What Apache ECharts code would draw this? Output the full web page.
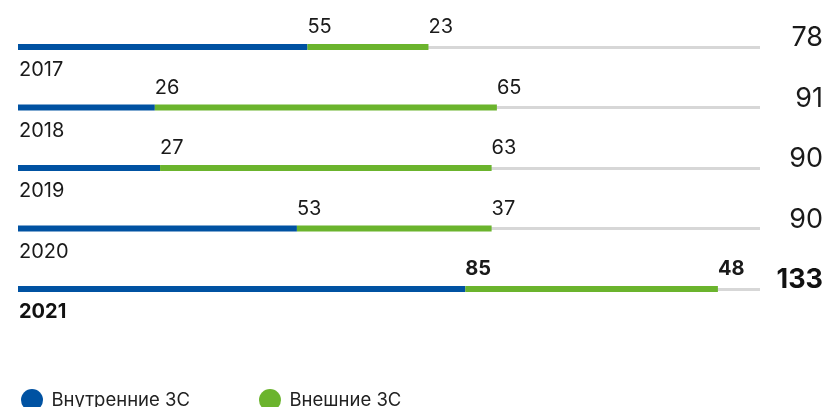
<!DOCTYPE html>
<html>
<head>
<meta charset="utf-8">
<script src="https://cdn.jsdelivr.net/npm/echarts@6/dist/echarts.min.js"></script>
<style>
  html, body { margin: 0; padding: 0; background: #fff; }
  #chart { width: 830px; height: 407px; }
</style>
</head>
<body>
<div id="chart"></div>
<script>
var years = ['2017', '2018', '2019', '2020', '2021']
var internal = [55, 26, 27, 53, 85]
var external = [23, 65, 63, 37, 48]
var seriesNames = ['Внутренние ЗС', 'Внешние ЗС']

var blue = '#0052a2'
var green = '#6bb42d'
var font = 'Inter'
var lastYear = years[years.length - 1]

// последний год выделяем жирным
function withBold(arr) {
    return arr.map(function (v, i) {
        if (years[i] === lastYear) {
            return { value: v, label: { fontWeight: 'bold' } }
        }
        return v
    })
}

var chart = echarts.init(document.getElementById('chart'))
chart.setOption({
    animation: false,
    textStyle: { fontFamily: font },
    grid: { left: 18, right: 70, top: 47, bottom: 118, containLabel: false },
    legend: {
        data: seriesNames,
        left: 16,
        top: 384,
        icon: 'circle',
        itemWidth: 22,
        itemHeight: 22,
        itemGap: 69,
        textStyle: { fontSize: 18.5, color: '#222', fontFamily: font, padding: [0, 0, 0, 3.5] }
    },
    xAxis: {
        type: 'value',
        min: 0,
        max: 141,
        show: false
    },
    yAxis: [{
        type: 'category',
        data: years,
        inverse: true,
        boundaryGap: false,
        axisLine: { show: false },
        axisTick: { show: false },
        splitLine: { show: true, interval: 0, lineStyle: { color: '#d7d7d7', width: 3 } },
        axisLabel: {
            inside: true,
            interval: 0,
            margin: 1,
            verticalAlign: 'top',
            padding: [13, 0, 0, 0],
            fontSize: 20,
            color: '#1a1a1a',
            formatter: function (v) {
                return v === lastYear ? '{b|' + v + '}' : v
            },
            rich: { b: { fontSize: 20, fontWeight: 'bold', color: '#111', fontFamily: font } }
        }
    }, {
        type: 'category',
        data: years,
        inverse: true,
        boundaryGap: false,
        position: 'right',
        axisLine: { show: false },
        axisTick: { show: false },
        splitLine: { show: false },
        axisLabel: {
            interval: 0,
            margin: 63,
            align: 'right',
            padding: [0, 0, 18, 0],
            fontSize: 27,
            color: '#1a1a1a',
            formatter: function (v) {
                var i = years.indexOf(v)
                var total = internal[i] + external[i]
                return v === lastYear ? '{b|' + total + '}' : String(total)
            },
            rich: { b: { fontSize: 27, fontWeight: 'bold', color: '#111', fontFamily: font } }
        }
    }],
    series: [{
        name: seriesNames[0],
        type: 'bar',
        stack: 'all',
        barWidth: 6,
        itemStyle: { color: blue },
        label: {
            show: true,
            position: ['100%', -7],
            align: 'left',
            verticalAlign: 'bottom',
            fontSize: 20,
            color: '#1a1a1a'
        },
        data: withBold(internal)
    }, {
        name: seriesNames[1],
        type: 'bar',
        stack: 'all',
        barWidth: 6,
        itemStyle: { color: green },
        label: {
            show: true,
            position: ['100%', -7],
            align: 'left',
            verticalAlign: 'bottom',
            fontSize: 20,
            color: '#1a1a1a'
        },
        data: withBold(external)
    }]
})
</script>
</body>
</html>
